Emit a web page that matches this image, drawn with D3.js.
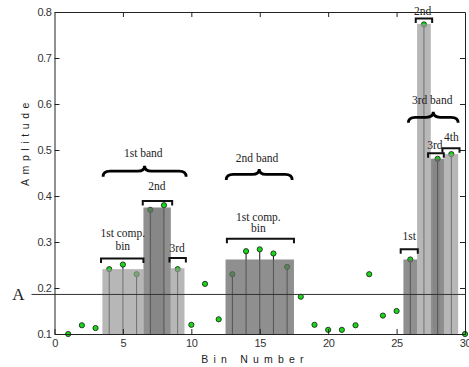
<!DOCTYPE html>
<html>
<head>
<meta charset="utf-8">
<script src="https://cdn.jsdelivr.net/npm/d3@7"></script>
<style>
  body { margin: 0; background: #fff; }
  svg { display: block; }
  .tick text { font-family: "Liberation Sans", Arial, sans-serif; font-size: 11px; fill: #333; letter-spacing: -0.4px; }
  .note { font-family: "Liberation Serif", "Times New Roman", serif; font-size: 11.5px; fill: #222; text-anchor: middle; }
</style>
</head>
<body>
<div id="viz"></div>
<script>
// size of the svg
var w = 469;
var h = 367;

var margin = {top: 12, right: 4, bottom: 33, left: 54.5};

// amplitude of every bin, 1..30
var bins = d3.range(1, 31);
var amplitude = [0.100, 0.119, 0.113, 0.241, 0.251, 0.230, 0.370, 0.380, 0.241, 0.120,
                 0.209, 0.132, 0.230, 0.280, 0.284, 0.275, 0.246, 0.181, 0.120, 0.109,
                 0.109, 0.119, 0.230, 0.140, 0.150, 0.262, 0.773, 0.481, 0.491, 0.100];

// compound bins: first bin, last bin, height, shade
var barFrom   = [4, 7, 9, 13, 26, 27, 28, 29];
var barTo     = [6, 8, 9, 17, 26, 27, 28, 29];
var barHeight = [0.241, 0.375, 0.243, 0.262, 0.262, 0.774, 0.481, 0.491];
var barShade  = ["light", "dark", "light", "dark", "dark", "light", "dark", "light"];

// darker inner stripes seen inside some bars: from bin, to bin, height
var stripeFrom   = [7, 27.65];
var stripeTo     = [8, 28.2];
var stripeHeight = [0.375, 0.481];

// bins that get a stem
var stemBins = [4, 5, 6, 7, 8, 9, 13, 14, 15, 16, 17, 26, 27, 28, 29];

// threshold line "A"
var threshold = 0.186;

// square brackets: from bin, to bin, amplitude
var brFrom = [3.4, 6.45, 8.4, 12.6, 25.3, 26.4, 27.3, 28.35];
var brTo   = [6.5, 8.6, 9.6, 17.5, 26.55, 27.6, 28.45, 29.6];
var brAt   = [0.264, 0.389, 0.265, 0.307, 0.284, 0.786, 0.493, 0.504];

// curly braces over each band
var braceFrom = [3.55, 12.55, 25.86];
var braceTo   = [9.62, 17.37, 29.5];
var braceAt   = [0.442, 0.435, 0.559];

// labels: text, bin, amplitude (baseline)
var noteText = ["1st band", "1st comp.", "bin", "2nd", "3rd",
                "2nd band", "1st comp.", "bin",
                "3rd band", "1st", "2nd", "3rd", "4th"];
var noteBin  = [6.49, 4.99, 4.99, 7.48, 8.96,
                14.8, 14.9, 14.9,
                27.6, 25.93, 26.9, 27.8, 29.0];
var noteAmp  = [0.484, 0.3115, 0.2826, 0.413, 0.279,
                0.475, 0.346, 0.322,
                0.601, 0.305, 0.793, 0.502, 0.52];

var xTicks = [0, 5, 10, 15, 20, 25, 30];
var yTicks = [0.1, 0.2, 0.3, 0.4, 0.5, 0.6, 0.7, 0.8];

var svg = d3.select("#viz")
            .append("svg")
            .attr("width", w)
            .attr("height", h);

var x = d3.scaleLinear().domain([0, 30]).range([margin.left, w - margin.right]);
var y = d3.scaleLinear().domain([0.1, 0.8]).range([h - margin.bottom, margin.top]);

// stems under the bars
svg.append("g")
   .selectAll("line")
   .data(stemBins)
   .enter()
   .append("line")
   .attr("x1", function(d){ return x(d); })
   .attr("x2", function(d){ return x(d); })
   .attr("y1", y(0.1))
   .attr("y2", function(d){ return y(amplitude[d - 1]); })
   .style("stroke", "#111")
   .style("stroke-width", 1);

// points
svg.append("g")
   .selectAll("circle")
   .data(bins)
   .enter()
   .append("circle")
   .attr("cx", function(d){ return x(d); })
   .attr("cy", function(d, i){ return y(amplitude[i]); })
   .attr("r", 2.6)
   .style("fill", "#19d619")
   .style("stroke", "#1c2e1c")
   .style("stroke-width", 0.9);

// bars, half transparent so points and stems show through
svg.append("g")
   .selectAll("rect")
   .data(barFrom)
   .enter()
   .append("rect")
   .attr("x", function(d){ return x(d - 0.5); })
   .attr("width", function(d, i){ return x(barTo[i] + 0.5) - x(d - 0.5); })
   .attr("y", function(d, i){ return y(barHeight[i]); })
   .attr("height", function(d, i){ return y(0.1) - y(barHeight[i]); })
   .style("fill", function(d, i){ return barShade[i] == "dark" ? "#6a6a6a" : "#999"; })
   .style("opacity", function(d, i){ return barShade[i] == "dark" ? 0.75 : 0.7; });

svg.append("g")
   .selectAll("rect")
   .data(stripeFrom)
   .enter()
   .append("rect")
   .attr("x", function(d){ return x(d); })
   .attr("width", function(d, i){ return x(stripeTo[i]) - x(d); })
   .attr("y", function(d, i){ return y(stripeHeight[i]); })
   .attr("height", function(d, i){ return y(0.1) - y(stripeHeight[i]); })
   .style("fill", "#555")
   .style("opacity", 0.12);

// threshold line
svg.append("line")
   .attr("x1", x(0) - 23)
   .attr("x2", x(30))
   .attr("y1", y(threshold))
   .attr("y2", y(threshold))
   .style("stroke", "#333")
   .style("stroke-width", 1);

svg.append("text")
   .attr("x", 18.5)
   .attr("y", y(threshold) + 6)
   .attr("text-anchor", "middle")
   .style("font-family", "'Liberation Serif', serif")
   .style("font-size", "17px")
   .style("fill", "#222")
   .text("A");

// axes, ticks pointing inward on all four sides
svg.append("g")
   .attr("transform", "translate(0," + y(0.1) + ")")
   .call(d3.axisBottom(x).tickValues(xTicks).tickSizeInner(-5).tickSizeOuter(0).tickPadding(5));
svg.append("g")
   .attr("transform", "translate(" + x(0) + ",0)")
   .call(d3.axisLeft(y).tickValues(yTicks).tickFormat(d3.format(".1f")).tickSizeInner(-5).tickSizeOuter(0).tickPadding(3));
svg.append("g")
   .attr("transform", "translate(0," + y(0.8) + ")")
   .call(d3.axisTop(x).tickValues(xTicks.slice(1, -1)).tickFormat("").tickSizeInner(-5).tickSizeOuter(0));
svg.append("g")
   .attr("transform", "translate(" + x(30) + ",0)")
   .call(d3.axisRight(y).tickValues(yTicks.slice(1, -1)).tickFormat("").tickSizeInner(-5).tickSizeOuter(0));
svg.selectAll(".domain, .tick line").style("stroke", "#222");

// axis titles
svg.append("text")
   .attr("x", 255)
   .attr("y", 363)
   .attr("text-anchor", "middle")
   .style("font-family", "'Liberation Sans', sans-serif")
   .style("font-size", "10.5px")
   .style("letter-spacing", "5.2px")
   .style("fill", "#222")
   .text("Bin Number");

svg.append("text")
   .attr("transform", "translate(29,142) rotate(-90)")
   .attr("text-anchor", "middle")
   .style("font-family", "'Liberation Sans', sans-serif")
   .style("font-size", "10.5px")
   .style("letter-spacing", "4.6px")
   .style("fill", "#222")
   .text("Amplitude");

// square brackets
svg.append("g")
  .selectAll("path")
  .data(brFrom)
  .enter()
  .append("path")
  .attr("d", function(d, i){
      var x1 = x(d), x2 = x(brTo[i]), yy = y(brAt[i]);
      return "M" + x1 + "," + (yy + 4.5) + "V" + yy + "H" + x2 + "V" + (yy + 4.5);
  })
  .style("fill", "none")
  .style("stroke", "#111")
  .style("stroke-width", 2);

// curly braces, tip up
function bracePath(x1, x2, yy, hh) {
  var xm = (x1 + x2) / 2, d = 7, mid = yy - hh / 2;
  return "M" + x1 + "," + yy +
         "Q" + x1 + "," + mid + " " + (x1 + d) + "," + mid +
         "L" + (xm - d) + "," + mid +
         "Q" + xm + "," + mid + " " + xm + "," + (yy - hh) +
         "Q" + xm + "," + mid + " " + (xm + d) + "," + mid +
         "L" + (x2 - d) + "," + mid +
         "Q" + x2 + "," + mid + " " + x2 + "," + yy;
}

svg.append("g")
   .selectAll("path")
   .data(braceFrom)
   .enter()
   .append("path")
   .attr("d", function(d, i){ return bracePath(x(d), x(braceTo[i]), y(braceAt[i]), 11); })
   .style("fill", "none")
   .style("stroke", "#000")
   .style("stroke-width", 2.8);

// annotation text
svg.append("g")
   .selectAll("text")
   .data(noteText)
   .enter()
   .append("text")
   .attr("class", "note")
   .attr("x", function(d, i){ return x(noteBin[i]); })
   .attr("y", function(d, i){ return y(noteAmp[i]); })
   .text(function(d){ return d; });
</script>
</body>
</html>
